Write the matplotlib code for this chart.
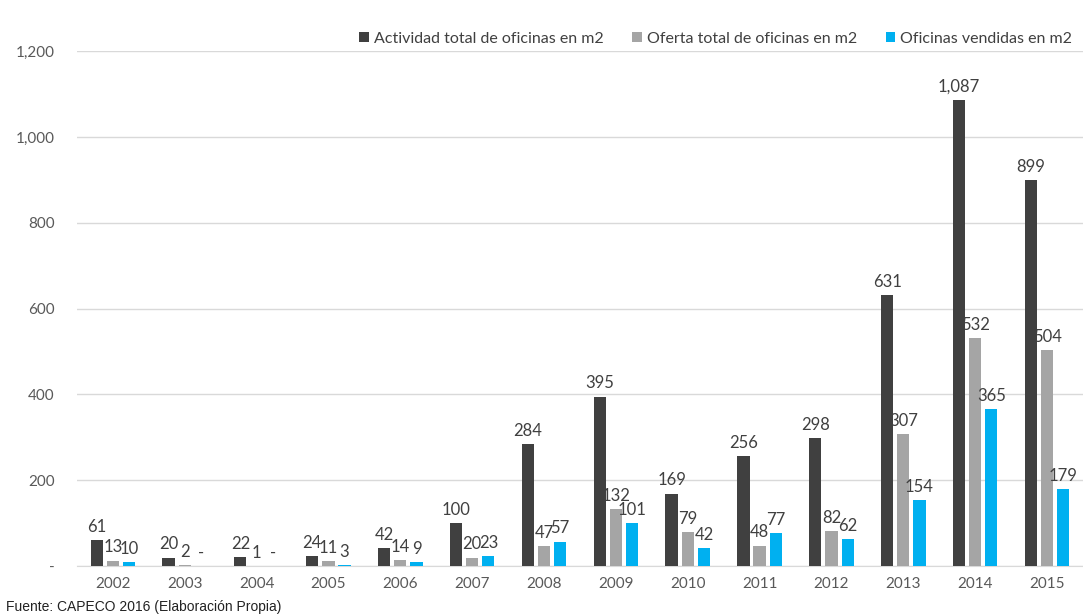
import numpy as np
import matplotlib.pyplot as plt
from matplotlib.ticker import FuncFormatter

years = ["2002", "2003", "2004", "2005", "2006", "2007", "2008",
         "2009", "2010", "2011", "2012", "2013", "2014", "2015"]
actividad = [61, 20, 22, 24, 42, 100, 284, 395, 169, 256, 298, 631, 1087, 899]
oferta = [13, 2, 1, 11, 14, 20, 47, 132, 79, 48, 82, 307, 532, 504]
vendidas = [10, 0, 0, 3, 9, 23, 57, 101, 42, 77, 62, 154, 365, 179]

series = [
    ("Actividad total de oficinas en m2", actividad, "#404040"),
    ("Oferta total de oficinas en m2", oferta, "#a5a5a5"),
    ("Oficinas vendidas en m2", vendidas, "#00b0f0"),
]

plt.rcParams['font.family'] = ['Lato', 'DejaVu Sans']

fig = plt.figure(figsize=(10.83, 6.16), dpi=100)
ax = fig.add_axes([0.071, 0.081, 0.929, 0.836])

x = np.arange(len(years))
width = 0.17
step = 0.225

for i, (name, vals, color) in enumerate(series):
    pos = x + (i - 1) * step
    ax.bar(pos, vals, width, color=color, label=name, zorder=3)
    for px, v in zip(pos, vals):
        txt = f"{v:,}" if v > 0 else "-"
        ax.text(px, v + 12, txt, ha='center', va='bottom',
                fontsize=12, color='#404040', zorder=4)

ax.set_ylim(0, 1200)
ax.set_xlim(-0.5, len(years) - 0.5)
ax.set_yticks(range(0, 1201, 200))
ax.yaxis.set_major_formatter(FuncFormatter(lambda v, p: f"{int(v):,}" if v > 0 else "-"))
ax.set_xticks(x)
ax.set_xticklabels(years)
ax.tick_params(axis='both', length=0, labelsize=11, colors='#595959')
ax.tick_params(axis='x', pad=8)
ax.tick_params(axis='y', pad=16)

ax.grid(axis='y', color='#d9d9d9', linewidth=1, zorder=0)
for side in ['top', 'right', 'left']:
    ax.spines[side].set_visible(False)
ax.spines['bottom'].set_color('#d9d9d9')

ax.legend(loc='lower right', bbox_to_anchor=(0.997, 0.995), ncol=3, frameon=False,
          fontsize=11.5, handlelength=0.6, handleheight=0.6, handletextpad=0.3,
          columnspacing=1.8, labelcolor='#404040', borderaxespad=0.1)

fig.text(0.006, 0.003, "Fuente: CAPECO 2016 (Elaboración Propia)",
         fontsize=10, family='Liberation Sans', color='#222222', va='bottom')

fig.savefig("out.png", dpi=100)
